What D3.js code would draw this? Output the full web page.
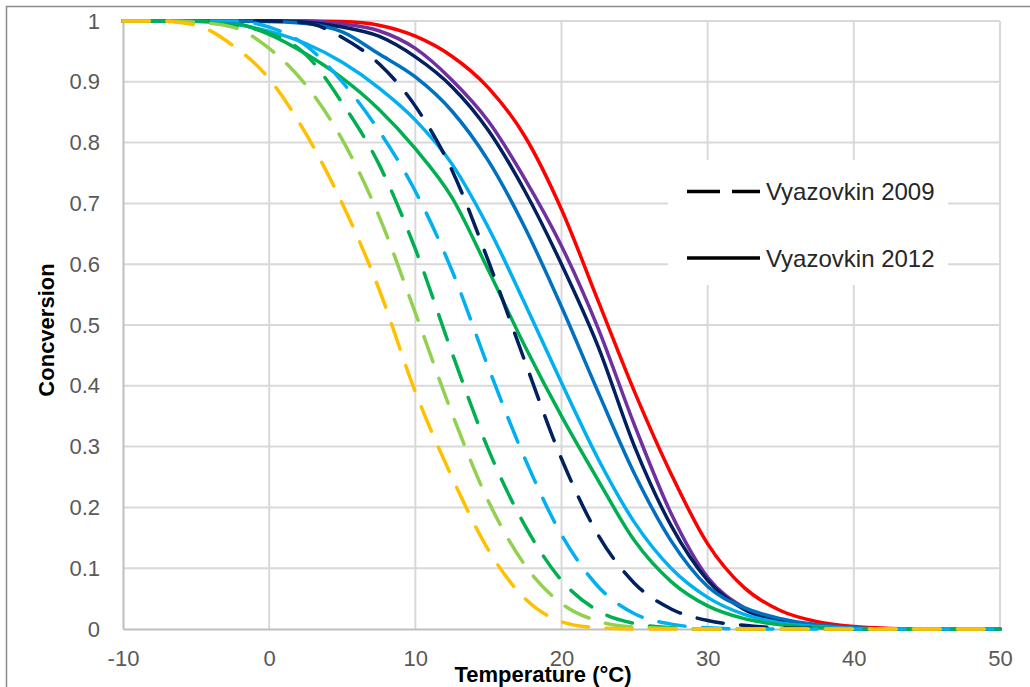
<!DOCTYPE html>
<html>
<head>
<meta charset="utf-8">
<script src="https://cdnjs.cloudflare.com/ajax/libs/d3/7.8.5/d3.min.js"></script>
<style>
  body { margin: 0; background: #fff; }
  svg { display: block; font-family: 'Liberation Sans', Arial, sans-serif; }
</style>
</head>
<body>
<div class="svg-container"></div>
<script>
// temperatures (°C) where the curves were read
const temps = [-10, -7.5, -5, -2.5, 0, 2.5, 5, 7.5, 10, 12.5, 15, 17.5, 20, 22.5, 25, 27.5, 30, 32.5, 35, 37.5, 40, 42.5, 45, 47.5, 50];

// Vyazovkin 2012 (solid)
const redSolid = [1, 1, 1, 1, 1, 1, 0.999, 0.993, 0.975, 0.942, 0.89, 0.81, 0.69, 0.54, 0.39, 0.255, 0.14, 0.068, 0.03, 0.012, 0.004, 0.001, 0, 0, 0];
const purpleSolid = [1, 1, 1, 1, 1, 1, 0.995, 0.984, 0.955, 0.903, 0.835, 0.74, 0.63, 0.495, 0.335, 0.19, 0.085, 0.035, 0.014, 0.005, 0.001, 0, 0, 0, 0];
const navySolid = [1, 1, 1, 1, 1, 0.998, 0.99, 0.975, 0.941, 0.892, 0.82, 0.72, 0.6, 0.465, 0.3, 0.17, 0.08, 0.032, 0.012, 0.004, 0.001, 0, 0, 0, 0];
const blueSolid = [1, 1, 1, 1, 0.999, 0.996, 0.982, 0.946, 0.908, 0.852, 0.77, 0.66, 0.53, 0.39, 0.255, 0.145, 0.07, 0.035, 0.017, 0.007, 0.002, 0, 0, 0, 0];
const skySolid = [1, 1, 0.999, 0.995, 0.983, 0.963, 0.932, 0.89, 0.837, 0.765, 0.66, 0.535, 0.405, 0.28, 0.175, 0.1, 0.052, 0.024, 0.01, 0.004, 0.001, 0, 0, 0, 0];
const greenSolid = [1, 1, 1, 0.997, 0.978, 0.946, 0.906, 0.855, 0.79, 0.71, 0.59, 0.465, 0.35, 0.245, 0.145, 0.078, 0.038, 0.017, 0.007, 0.002, 0, 0, 0, 0, 0];

// Vyazovkin 2009 (dashed)
const navyDashed = [1, 1, 1, 1, 1, 0.997, 0.973, 0.93, 0.86, 0.755, 0.605, 0.44, 0.28, 0.155, 0.075, 0.033, 0.014, 0.006, 0.002, 0.001, 0, 0, 0, 0, 0];
const skyDashed = [1, 1, 1, 1, 0.99, 0.96, 0.9, 0.82, 0.72, 0.59, 0.43, 0.28, 0.155, 0.07, 0.025, 0.008, 0.002, 0, 0, 0, 0, 0, 0, 0, 0];
const greenDashed = [1, 1, 0.998, 0.993, 0.98, 0.945, 0.865, 0.765, 0.625, 0.455, 0.295, 0.17, 0.08, 0.03, 0.009, 0.002, 0, 0, 0, 0, 0, 0, 0, 0, 0];
const limeDashed = [1, 1, 0.998, 0.99, 0.955, 0.895, 0.805, 0.68, 0.52, 0.355, 0.21, 0.105, 0.042, 0.013, 0.003, 0.001, 0, 0, 0, 0, 0, 0, 0, 0, 0];
const yellowDashed = [1, 1, 0.993, 0.96, 0.905, 0.815, 0.7, 0.56, 0.39, 0.25, 0.13, 0.05, 0.012, 0.002, 0, 0, 0, 0, 0, 0, 0, 0, 0, 0, 0];

const xTicks = [-10, 0, 10, 20, 30, 40, 50];
const yTicks = [0, 0.1, 0.2, 0.3, 0.4, 0.5, 0.6, 0.7, 0.8, 0.9, 1];
const legendLabels = ['Vyazovkin 2009', 'Vyazovkin 2012'];

// draw order: solid series first, dashed on top
const series = [
  { values: redSolid, colour: '#ff0000', dashed: false },
  { values: purpleSolid, colour: '#7030a0', dashed: false },
  { values: navySolid, colour: '#002060', dashed: false },
  { values: blueSolid, colour: '#0070c0', dashed: false },
  { values: skySolid, colour: '#00b0f0', dashed: false },
  { values: greenSolid, colour: '#00b050', dashed: false },
  { values: navyDashed, colour: '#002060', dashed: true },
  { values: skyDashed, colour: '#00b0f0', dashed: true },
  { values: greenDashed, colour: '#00b050', dashed: true },
  { values: limeDashed, colour: '#92d050', dashed: true },
  { values: yellowDashed, colour: '#ffc000', dashed: true }
];

const width = 1030;
const height = 687;
const plot = { left: 123, right: 1000, top: 21, bottom: 629 };
const dash = '26.5,17.5';

const svg = d3.select('.svg-container')
  .append('svg')
  .attr('width', width)
  .attr('height', height);

// chart area frame
svg.append('rect')
  .attr('x', 6.5)
  .attr('y', 6.5)
  .attr('width', 1100)
  .attr('height', 1000)
  .attr('fill', '#fff')
  .attr('stroke', '#8c8c8c')
  .attr('stroke-width', 1.5);

const x = d3.scaleLinear().domain([-10, 50]).range([plot.left, plot.right]);
const y = d3.scaleLinear().domain([0, 1]).range([plot.bottom, plot.top]);

// gridlines
svg.append('g')
  .selectAll('line')
  .data(yTicks.slice(1))
  .enter()
  .append('line')
  .attr('x1', plot.left)
  .attr('x2', plot.right)
  .attr('y1', d => y(d))
  .attr('y2', d => y(d))
  .attr('stroke', '#d9d9d9')
  .attr('stroke-width', 2);

svg.append('g')
  .selectAll('line')
  .data(xTicks.slice(1))
  .enter()
  .append('line')
  .attr('x1', d => x(d))
  .attr('x2', d => x(d))
  .attr('y1', plot.top)
  .attr('y2', plot.bottom)
  .attr('stroke', '#d9d9d9')
  .attr('stroke-width', 2);

// axes
const xAxis = svg.append('g')
  .attr('transform', `translate(0,${plot.bottom})`)
  .call(d3.axisBottom(x).tickValues(xTicks).tickSize(0).tickPadding(21).tickFormat(d => String(d)));

const yAxis = svg.append('g')
  .attr('transform', `translate(${plot.left},0)`)
  .call(d3.axisLeft(y).tickValues(yTicks).tickSize(0).tickPadding(23).tickFormat(d => d === 0 || d === 1 ? String(d) : d.toFixed(1)));

[xAxis, yAxis].forEach(a => {
  a.select('.domain').attr('stroke', '#bfbfbf').attr('stroke-width', 2);
  a.selectAll('text')
    .attr('fill', '#595959')
    .style('font-size', '22px')
    .style('font-family', "'Liberation Sans', Arial, sans-serif");
});

// lines
const line = d3.line()
  .x((d, i) => x(temps[i]))
  .y(d => y(d))
  .curve(d3.curveMonotoneX);

svg.append('g')
  .selectAll('path')
  .data(series)
  .enter()
  .append('path')
  .attr('d', d => line(d.values))
  .attr('fill', 'none')
  .attr('stroke', d => d.colour)
  .attr('stroke-width', 3.5)
  .attr('stroke-linecap', 'round')
  .attr('stroke-dasharray', d => d.dashed ? dash : null);

// legend
const legend = svg.append('g').attr('id', 'legend');

legend.append('rect')
  .attr('x', 668)
  .attr('y', 160)
  .attr('width', 280)
  .attr('height', 125)
  .attr('fill', '#fff');

const legendY = [191.5, 258];

legend.selectAll('line')
  .data(legendLabels)
  .enter()
  .append('line')
  .attr('x1', 687)
  .attr('x2', 760)
  .attr('y1', (d, i) => legendY[i])
  .attr('y2', (d, i) => legendY[i])
  .attr('stroke', '#000')
  .attr('stroke-width', 3.5)
  .attr('stroke-dasharray', (d, i) => i === 0 ? '33,12' : null);

legend.selectAll('text')
  .data(legendLabels)
  .enter()
  .append('text')
  .attr('x', 766)
  .attr('y', (d, i) => legendY[i] + 8.5)
  .attr('fill', '#262626')
  .style('font-size', '24px')
  .text(d => d);

// axis titles
svg.append('text')
  .attr('x', 543)
  .attr('y', 682)
  .attr('text-anchor', 'middle')
  .style('font-size', '22px')
  .style('font-weight', 'bold')
  .text('Temperature (°C)');

svg.append('text')
  .attr('transform', 'translate(54,330) rotate(-90)')
  .attr('text-anchor', 'middle')
  .style('font-size', '22px')
  .style('font-weight', 'bold')
  .text('Concversion');
</script>
</body>
</html>
